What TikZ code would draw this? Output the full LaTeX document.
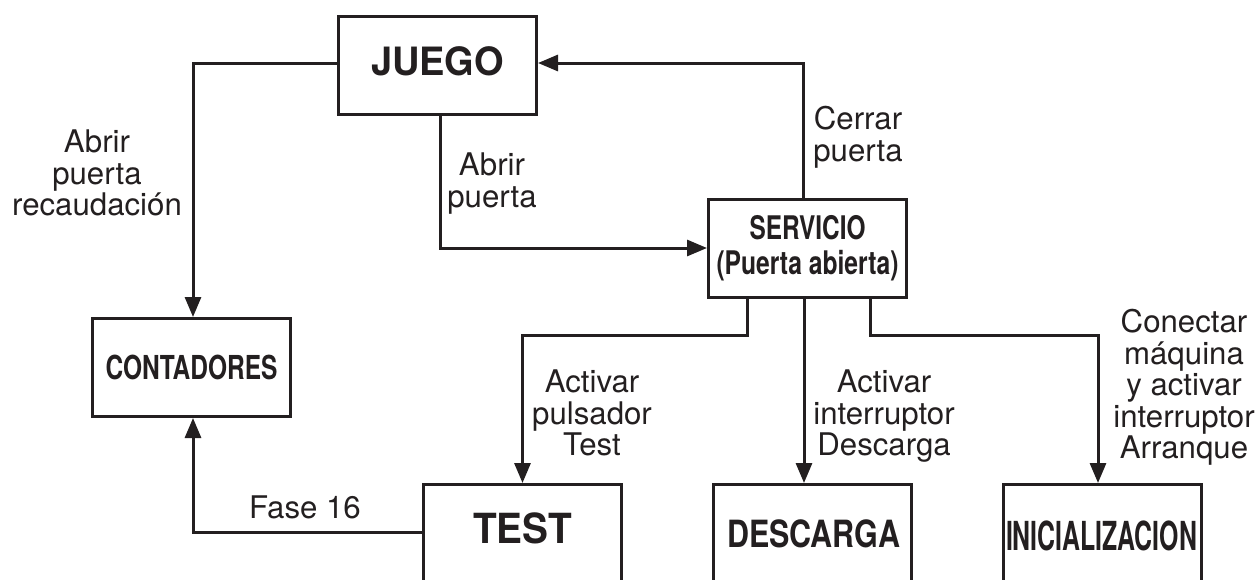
\documentclass[tikz,border=0pt]{standalone}
\usepackage{fontspec}
\usepackage{graphicx}
\setmainfont{TeX Gyre Heros}
\usetikzlibrary{arrows.meta}
\definecolor{ink}{RGB}{35,31,32}
\newcommand\bt[3]{{\fontsize{#2}{#2}\selectfont\bfseries\resizebox{#1pt}{\height}{#3}}}
\begin{document}
\begin{tikzpicture}[x=1pt,y=-1pt,
  box/.style={draw=ink, line width=3pt, minimum width=198pt, minimum height=98pt, inner sep=0pt, text=ink},
  lbl/.style={align=center, inner sep=0pt, anchor=north, text=ink, font=\fontsize{31.2}{31.5}\selectfont},
  btxt/.style={anchor=base, inner sep=0pt, text=ink},
  arr/.style={draw=ink, line width=3pt, -{Triangle[length=20pt,width=16pt]}}]
\useasboundingbox (0,0) rectangle (1260,579);
\clip (0,0) rectangle (1260,579);
\fill[white] (0,0) rectangle (1260,579);
% boxes
\node[box, text depth=8pt] (juego) at (437.5,65) {\bt{133}{39}{JUEGO}};
\node[box] (cont) at (191.5,367.5) {\bt{172}{33}{CONTADORES}};
\node[box, align=center, font=\fontsize{32.5}{35}\selectfont] (serv) at (807.5,248) {\bt{116}{32.5}{SERVICIO}\\\bt{182}{32.5}{(Puerta abierta)}};
\node[box, anchor=north, minimum height=200pt] (test) at (522.5,483) {};
\node[btxt] (testtxt) at (522.5,543) {\bt{99}{41.5}{TEST}};
\node[box, anchor=north, minimum height=200pt] (desc) at (812,483) {};
\node[btxt] (desctxt) at (813.5,547) {\bt{173}{37.5}{DESCARGA}};
\node[box, anchor=north, minimum height=200pt] (ini) at (1102,483) {};
\node[btxt] (initxt) at (1101.5,550) {\bt{191}{40}{INICIALIZACION}};
% connectors
\draw[arr] ([yshift=2pt]juego.west) -| ([xshift=1.5pt]cont.north);
\draw[arr] ([xshift=2.5pt]juego.south) |- (serv.west);
\draw[arr] ([xshift=-4.5pt]serv.north) |- ([yshift=2pt]juego.east);
\draw[arr] ([xshift=-60.5pt]serv.south) -- ++(0,37) -| (test.north);
\draw[arr] ([xshift=-3.5pt]serv.south) -- ([xshift=-3.5pt]serv.south |- desc.north);
\draw[arr] ([xshift=62.5pt]serv.south) -- ++(0,37) -| ([xshift=-4pt]ini.north);
\draw[arr] ([yshift=-49pt]test.north west) -| ([xshift=1.5pt]cont.south);
% labels
\node[lbl] (l1) at (97,130) {Abrir\\puerta\\recaudación};
\node[lbl] (l2) at (492,153) {Abrir\\puerta};
\node[lbl] (l3) at (858,106) {Cerrar\\puerta};
\node[lbl] (l4) at (592,370) {Activar\\pulsador\\Test};
\node[lbl] (l5) at (884,370) {Activar\\interruptor\\Descarga};
\node[lbl] (l6) at (1184,309) {Conectar\\máquina\\y activar\\interruptor\\Arranque};
\node[lbl] (l7) at (305,496) {Fase 16};
\end{tikzpicture}
\end{document}
